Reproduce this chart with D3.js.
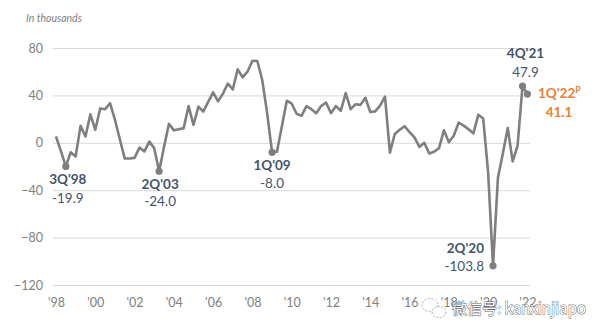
<!DOCTYPE html>
<html><head><meta charset="utf-8">
<script src="https://cdn.jsdelivr.net/npm/d3@7"></script>
<style>
html,body{margin:0;padding:0;background:#fff;}
svg{display:block;font-family:Lato,"Open Sans",sans-serif;}
</style></head>
<body>
<svg id="chart" width="601" height="335"></svg>
<script>
// ---- data ----
const years = [1998,1999,2000,2001,2002,2003,2004,2005,2006,2007,2008,2009,2010,2011,2012,2013,2014,2015,2016,2017,2018,2019,2020,2021,2022];
const quarters = [];
years.forEach(y => { for (let q = 1; q <= 4; q++) { if (y === 2022 && q > 1) break; quarters.push(q + "Q'" + String(y).slice(2)); } });
const values = [
  5.3, -7, -19.9, -8,
  -11.5, 14.3, 5.3, 24,
  11, 29, 28.3, 33.4,
  19.5, 3, -13.3, -13.3,
  -12.7, -4, -7.3, 1,
  -4.5, -24.0, -3.5, 16,
  10.5, 11.5, 12.4, 31,
  15, 30.5, 26.4, 34.5,
  42.5, 35, 41.5, 50,
  45, 62, 55.3, 60,
  69.3, 69, 53, 25,
  -8.0, -7.5, 14, 35.5,
  33, 24.5, 22.7, 31,
  28.4, 25, 31, 34,
  25, 31, 27, 42,
  28.4, 32.5, 32, 38,
  26, 26.5, 31.4, 39,
  -8.3, 7.5, 11, 14,
  9, 4.5, -3.5, 0,
  -9, -7.5, -4.5, 10.5,
  0.5, 6, 17, 14.5,
  11.5, 8, 23.6, 20.5,
  -25, -103.8, -29.5, -9,
  12.4, -15.7, -2.5, 47.9,
  41.1
];
const yTicks = [80, 40, 0, -40, -80, -120];
const xTickQuarters = ["1Q'98","1Q'00","1Q'02","1Q'04","1Q'06","1Q'08","1Q'10","1Q'12","1Q'14","1Q'16","1Q'18","1Q'20","1Q'22"];
const xTickLabels = ["'98","'00","'02","'04","'06","'08","'10","'12","'14","'16","'18","'20","'22"];
const annotations = [
  {q:"3Q'98", label:"3Q'98", value:"-19.9"},
  {q:"2Q'03", label:"2Q'03", value:"-24.0"},
  {q:"1Q'09", label:"1Q'09", value:"-8.0"},
  {q:"2Q'20", label:"2Q'20", value:"-103.8"},
  {q:"4Q'21", label:"4Q'21", value:"47.9"},
  {q:"1Q'22", label:"1Q'22", value:"41.1"}
];
const unitLabel = "In thousands";
const watermark = "微信号: kanxinjiapo";

// ---- chart ----
const svg = d3.select("#chart");
const x = d3.scalePoint().domain(quarters).range([56, 527.4]);
const y = d3.scaleLinear().domain([-120, 80]).range([285, 48]);
const gridX0 = 53, gridX1 = 530;

svg.append("text").attr("x", 26).attr("y", 22)
  .attr("font-size", 10.5).attr("font-style", "italic").attr("fill", "#7f7f7f").text(unitLabel);

// y axis
const yAxis = d3.axisLeft(y).tickValues(yTicks).tickSize(-(gridX1 - gridX0)).tickPadding(10).tickFormat(d3.format("d"));
const gy = svg.append("g").attr("transform", `translate(${gridX0},0)`).call(yAxis);
gy.select(".domain").remove();
gy.selectAll(".tick line").attr("stroke", "#d9d9d9").attr("stroke-width", 1);
gy.selectAll(".tick text").attr("fill", "#808080").attr("font-size", 12.5).attr("font-family", "Lato, sans-serif");

// x axis
const labelMap = new Map(xTickQuarters.map((q, i) => [q, xTickLabels[i]]));
const xAxis = d3.axisBottom(x).tickValues(xTickQuarters).tickSize(0).tickPadding(0).tickFormat(d => labelMap.get(d));
const gx = svg.append("g").attr("transform", `translate(0,298)`).call(xAxis);
gx.select(".domain").remove();
gx.selectAll(".tick text").attr("fill", "#808080").attr("font-size", 12.5).attr("font-family", "Lato, sans-serif");

// line
const line = d3.line().x((d, i) => x(quarters[i])).y(d => y(d)).curve(d3.curveLinear);
svg.append("path").datum(values).attr("d", line)
  .attr("fill", "none").attr("stroke", "#7f7f7f").attr("stroke-width", 2.6).attr("stroke-linejoin", "round");

// markers
const idx = q => quarters.indexOf(q);
svg.selectAll("circle.mk").data(annotations).join("circle").attr("class", "mk")
  .attr("cx", d => x(d.q)).attr("cy", d => y(values[idx(d.q)])).attr("r", 3.6).attr("fill", "#7f7f7f");

// annotation text positions (offsets relative to point)
const dark = "#44546a", orange = "#ed7d31";
const place = {
  "3Q'98": {dx: 2, dy1: 18, dy2: 37, anchor: "middle"},
  "2Q'03": {dx: 1, dy1: 18, dy2: 35, anchor: "middle"},
  "1Q'09": {dx: 0, dy1: 18, dy2: 36, anchor: "middle"},
  "2Q'20": {dx: -9, dy1: -13, dy2: 5, anchor: "end"},
  "4Q'21": {dx: 3, dy1: -28, dy2: -9, anchor: "middle"}
};
annotations.forEach(a => {
  const px = x(a.q), py = y(values[idx(a.q)]);
  if (a.q === "1Q'22") {
    const t = svg.append("text").attr("x", 538).attr("y", 98).attr("fill", orange)
      .attr("font-weight", "bold").attr("font-size", 13.5);
    t.append("tspan").text(a.label);
    t.append("tspan").attr("font-size", 8.5).attr("dy", -5).text("P");
    svg.append("text").attr("x", 559).attr("y", 117).attr("text-anchor", "middle").attr("fill", orange)
      .attr("font-weight", "bold").attr("font-size", 13.5).text(a.value);
    return;
  }
  const p = place[a.q];
  svg.append("text").attr("x", px + p.dx).attr("y", py + p.dy1).attr("text-anchor", p.anchor)
    .attr("fill", dark).attr("font-weight", "bold").attr("font-size", 13.5).text(a.label);
  svg.append("text").attr("x", px + p.dx).attr("y", py + p.dy2).attr("text-anchor", p.anchor)
    .attr("fill", dark).attr("font-size", 13.5).text(a.value);
});

// watermark
const wm = svg.append("g").attr("opacity", 0.9);
wm.append("ellipse").attr("cx", 430).attr("cy", 305).attr("rx", 8).attr("ry", 6.5)
  .attr("fill", "none").attr("stroke", "#aaa").attr("stroke-dasharray", "2,1.5");
wm.append("ellipse").attr("cx", 439).attr("cy", 312).attr("rx", 7).attr("ry", 5.5)
  .attr("fill", "#fff").attr("stroke", "#aaa").attr("stroke-dasharray", "2,1.5");
wm.append("text").attr("x", 452).attr("y", 314).attr("font-size", 15)
  .attr("font-family", "'Noto Sans CJK SC', sans-serif")
  .attr("fill", "#fff").attr("stroke", "#555").attr("stroke-width", 0.9).attr("paint-order", "stroke")
  .text(watermark);
</script>
</body></html>
